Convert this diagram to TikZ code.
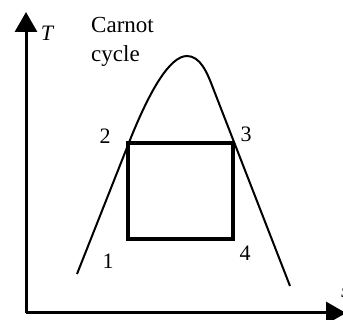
\documentclass[tikz,border=0pt]{standalone}
\usepackage{fontspec}
\setmainfont{Liberation Serif}
\usetikzlibrary{arrows.meta}
\begin{document}
\begin{tikzpicture}[x=1pt,y=-1pt,
  axis/.style={line width=3pt,-{Triangle[length=20pt,width=22pt]}},
  dome/.style={line width=2pt},
  cyc/.style={line width=3.4pt},
  lbl/.style={font=\fontsize{22}{25}\selectfont, inner sep=0pt}]
\useasboundingbox (0,0) rectangle (343,320);
% axes
\coordinate (O) at (26,313);
\coordinate (ytop) at (26,12);
\coordinate (xend) at (346,313);
\draw[axis] (O) -- (ytop);
\draw[axis] (O) -- (xend);
\node[lbl, font=\fontsize{22}{25}\selectfont\itshape] (T) at (47,33) {T};
\node[lbl, font=\fontsize{22}{25}\selectfont\itshape, anchor=base west] (S) at (341,298) {s};
% title
\node[lbl, font=\fontsize{23}{26}\selectfont, anchor=base west] (t1) at (91,33) {Carnot};
\node[lbl, font=\fontsize{23}{26}\selectfont, anchor=base west] (t2) at (91,62) {cycle};
% saturation dome
\draw[dome] (77,274) -- (130,140) .. controls (150,90) and (170,56) .. (187,56)
  .. controls (200,56) and (207,72) .. (213,88) -- (290,286);
% cycle rectangle
\coordinate (p2) at (128,143);
\coordinate (p3) at (233,143);
\coordinate (p4) at (233,239);
\coordinate (p1) at (128,239);
\draw[cyc] (p1) -- (p2) -- (p3) -- (p4) -- cycle;
% labels
\node[lbl] (l2) at (105,136) {2};
\node[lbl] (l3) at (246,134) {3};
\node[lbl] (l1) at (108,261) {1};
\node[lbl] (l4) at (245,253) {4};
\end{tikzpicture}
\end{document}
